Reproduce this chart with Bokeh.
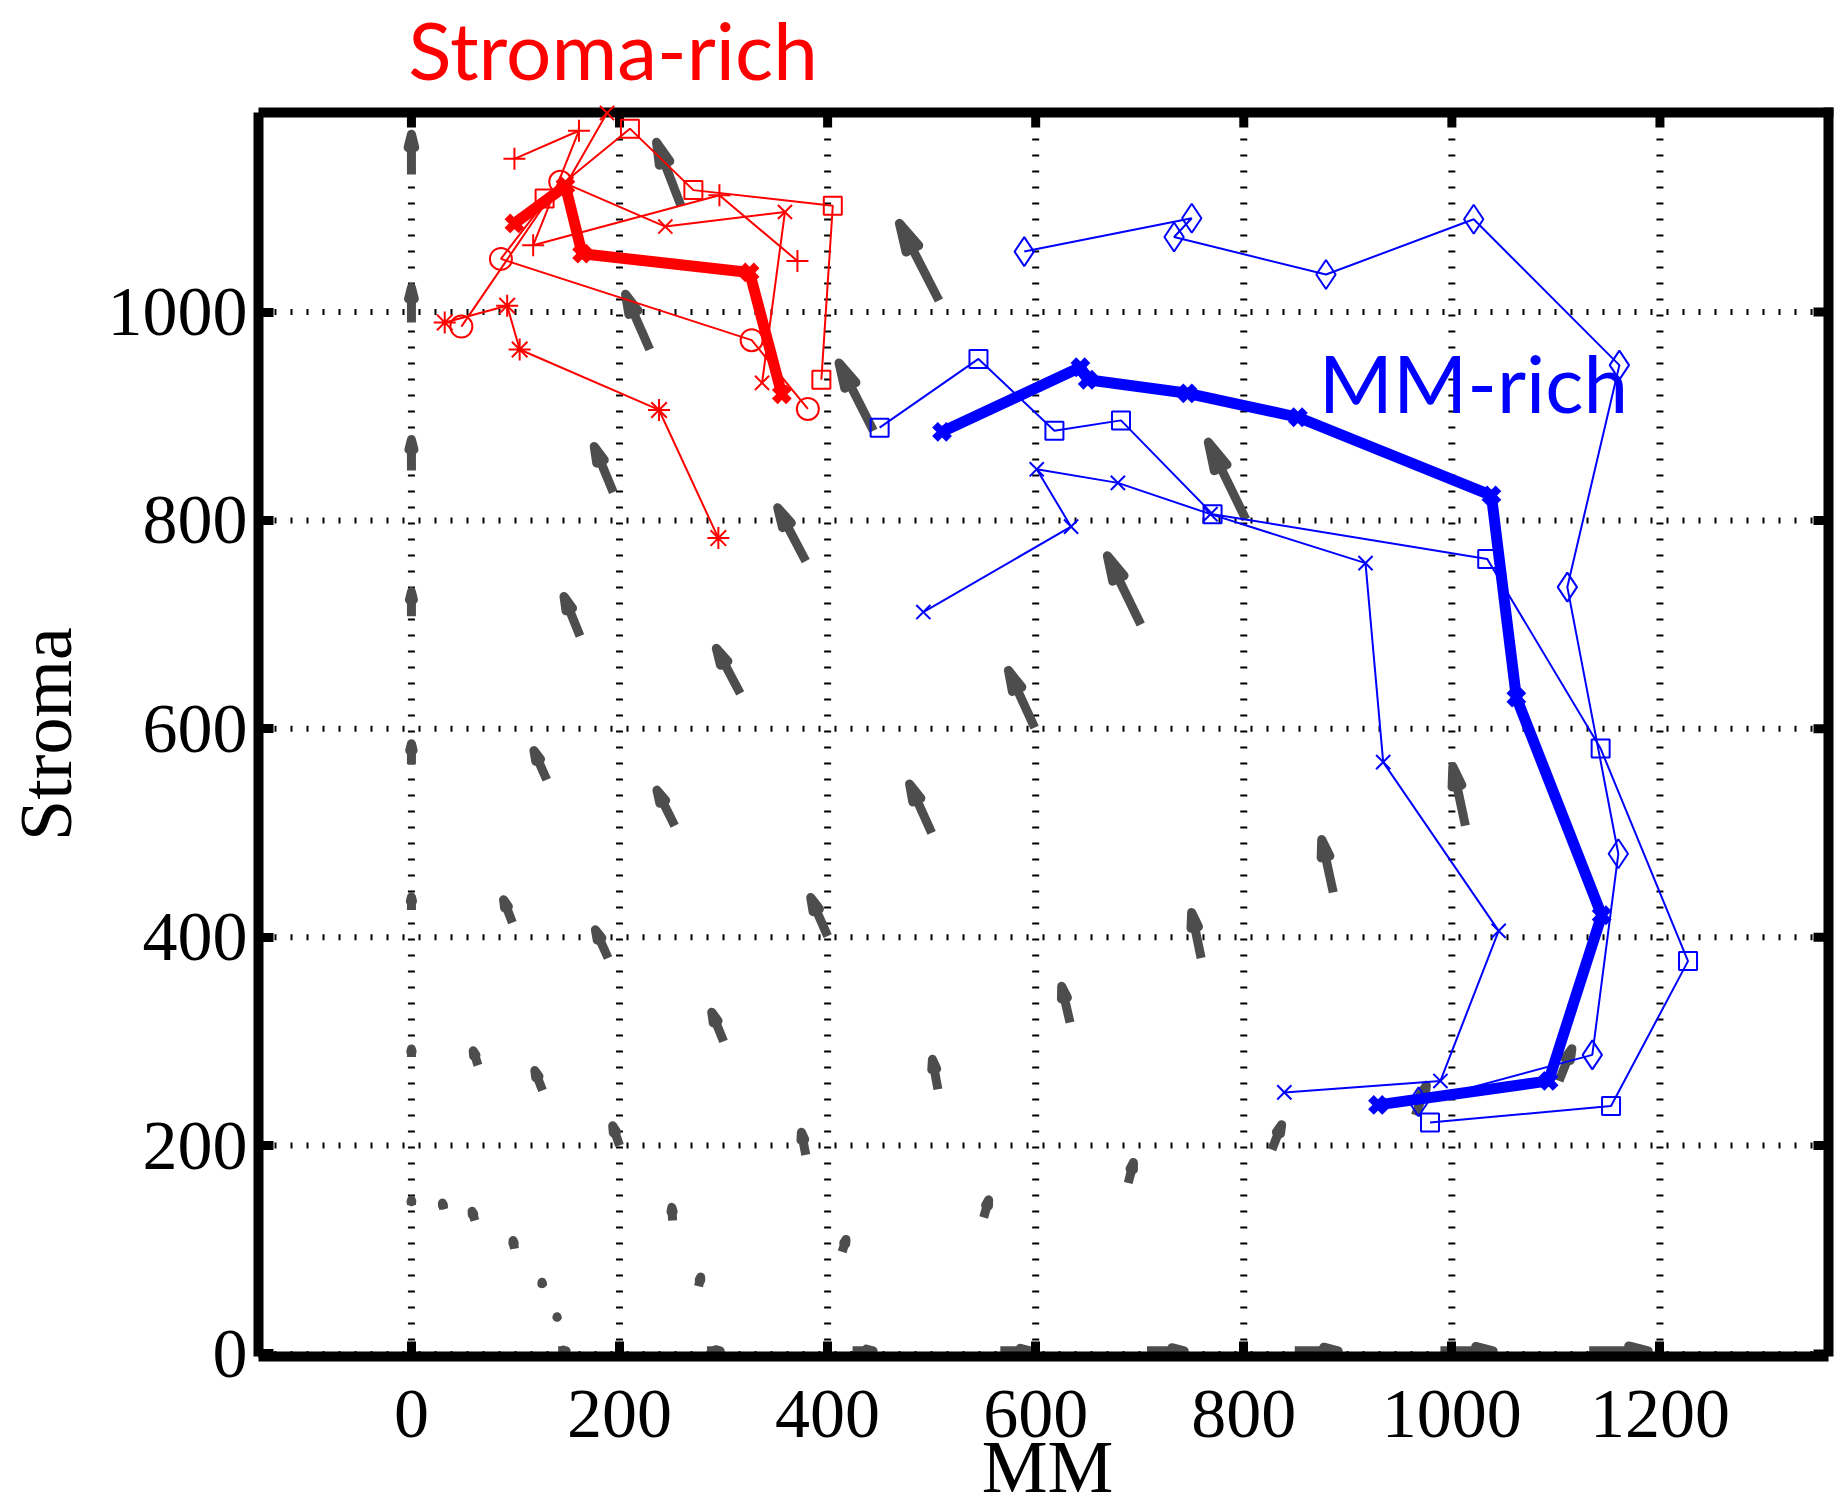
import numpy as np
from bokeh.plotting import figure
from bokeh.models import FixedTicker, Label, Range1d
from bokeh.embed import file_html
from bokeh.resources import INLINE

# ---------------- Stroma-rich group: five trajectories and their average ----------------
sr_plus_x = [99, 161, 117, 296, 371]
sr_plus_y = [1147, 1174, 1064, 1112, 1049]
sr_square_x = [128, 210, 271, 405, 394]
sr_square_y = [1109, 1176, 1117, 1102, 935]
sr_x_x = [188, 149, 244, 359, 337]
sr_x_y = [1191, 1123, 1082, 1096, 932]
sr_circle_x = [48, 143, 86, 327, 381]
sr_circle_y = [986, 1125, 1051, 973, 907]
sr_star_x = [32, 92, 104, 238, 295]
sr_star_y = [990, 1006, 964, 906, 783]
sr_mean_x = [99, 148, 164, 325, 356]
sr_mean_y = [1085, 1121, 1056, 1038, 921]

# ---------------- MM-rich group: three trajectories and their average ----------------
mr_diamond_x = [589, 750, 733, 879, 1021, 1161, 1111, 1160, 1135, 968]
mr_diamond_y = [1058, 1090, 1072, 1036, 1089, 949, 736, 480, 287, 242]
mr_square_x = [450, 545, 618, 682, 770, 1034, 1143, 1227, 1153, 979]
mr_square_y = [889, 955, 886, 896, 806, 763, 581, 377, 238, 222]
mr_x_x = [492, 634, 601, 679, 768, 917, 934, 1045, 989, 839]
mr_x_y = [712, 794, 849, 836, 806, 759, 568, 406, 262, 251]
mr_mean_x = [510, 643, 650, 746, 852, 1038, 1062, 1144, 1093, 929]
mr_mean_y = [885, 947, 935, 922, 899, 824, 630, 421, 262, 239]

# ---------------- direction field: arrow tails and tips ----------------
field_tail_x = [0, 0, 0, 0, 0, 0, 0, 0,
                259, 507, 802, 1013, 1103, 1132,
                229, 444, 701, 886, 965, 989,
                194, 379, 599, 759, 827, 849,
                162, 316, 500, 633, 689, 707,
                130, 253, 400, 506, 550, 566,
                97, 189, 300, 379, 414, 424,
                64, 126, 200, 251, 276, 284,
                31, 61, 99, 126, 140, 141]
field_tail_y = [1132, 990, 848, 708, 566, 426, 285, 143,
                1102, 1011, 801, 507, 262, 3,
                964, 886, 700, 443, 229, 3,
                827, 761, 601, 380, 196, 3,
                689, 634, 500, 318, 164, 3,
                551, 507, 401, 254, 131, 3,
                414, 380, 300, 191, 98, 3,
                277, 253, 200, 128, 65, 3,
                139, 128, 101, 65, 34, 3]
field_tip_x = [0, 0, 0, 0, 0, 0, 0, 0,
               234, 467, 764, 1000, 1117, 1193,
               204, 409, 667, 874, 977, 1044,
               174, 350, 572, 749, 838, 895,
               145, 291, 477, 624, 695, 747,
               116, 234, 382, 500, 556, 599,
               87, 175, 287, 374, 419, 448,
               58, 117, 192, 250, 279, 301,
               29, 57, 97, 125, 140, 153]
field_tip_y = [1175, 1028, 882, 736, 590, 443, 297, 152,
               1167, 1089, 879, 568, 297, 3,
               1021, 955, 770, 498, 262, 3,
               875, 816, 660, 428, 224, 3,
               731, 681, 551, 357, 188, 3,
               583, 545, 442, 287, 152, 3,
               440, 411, 332, 217, 114, 3,
               295, 276, 223, 145, 78, 3,
               149, 141, 113, 73, 40, 3]

x_ticks = [0, 200, 400, 600, 800, 1000, 1200]
y_ticks = [0, 200, 400, 600, 800, 1000]

RED = "#ff0000"
BLUE = "#0000ff"
GRAY = "#4d4d4d"
SERIF = "Liberation Serif"

# axes box in data units
X_LO, X_HI = -147, 1362
Y_LO, Y_HI = -2.5, 1191.5
# the drawing area reaches to the top of the page so the group title fits in it
X_VIEW = 1369.7
Y_VIEW = 1299.0

p = figure(frame_width=1578, frame_height=1356,
           x_range=Range1d(X_LO, X_VIEW), y_range=Range1d(Y_LO, Y_VIEW),
           output_backend="svg", toolbar_location=None,
           min_border_left=258, min_border_top=0,
           min_border_right=3, min_border_bottom=147)
p.background_fill_color = "white"
p.border_fill_color = "white"
p.outline_line_color = None
p.xgrid.visible = False
p.ygrid.visible = False

xa = p.below[0]
ya = p.left[0]
xa.ticker = FixedTicker(ticks=x_ticks)
ya.ticker = FixedTicker(ticks=y_ticks)
xa.bounds = (X_LO, X_HI)
ya.bounds = (Y_LO, Y_HI)

for ax in (xa, ya):
    ax.axis_line_width = 10
    ax.axis_line_color = "black"
    ax.major_tick_in = 15
    ax.major_tick_out = 0
    ax.major_tick_line_width = 9
    ax.major_tick_line_color = "black"
    ax.minor_tick_line_color = None
    ax.major_label_text_font = SERIF
    ax.major_label_text_font_size = "70px"
    ax.major_label_text_color = "black"
    ax.axis_label_text_font = SERIF
    ax.axis_label_text_font_size = "74px"
    ax.axis_label_text_font_style = "normal"
    ax.axis_label_text_color = "black"

xa.axis_label = "MM"
xa.major_label_standoff = 34
xa.axis_label_standoff = -14
# trailing no-break spaces keep the label centred on the box rather than the taller frame
ya.axis_label = "Stroma" + "\u00a0" * 6
ya.major_label_standoff = 11
ya.axis_label_standoff = 18

# dotted grid at the ticks
n_x, n_y = len(x_ticks), len(y_ticks)
p.segment(x0=x_ticks, y0=[Y_LO] * n_x, x1=x_ticks, y1=[Y_HI] * n_x,
          line_color="black", line_width=7, line_dash="2 14")
p.segment(x0=[X_LO] * n_y, y0=y_ticks, x1=[X_HI] * n_y, y1=y_ticks,
          line_color="black", line_width=6, line_dash="2 14")

# ---------------- arrows of the direction field ----------------
lw = 9.0
half = lw / 2 / 1.04
tx0 = np.array(field_tail_x, float)
ty0 = np.array(field_tail_y, float)
tx1 = np.array(field_tip_x, float)
ty1 = np.array(field_tip_y, float)
dx = tx1 - tx0
dy = ty1 - ty0
L = np.hypot(dx, dy)
ux, uy = dx / L, dy / L
Lv = np.maximum(L - half, 1.0)
tipx = tx0 + ux * Lv
tipy = ty0 + uy * Lv
head = 0.33 * Lv
spread = 0.25 * head
bx = tipx - ux * head
by = tipy - uy * head
nx, ny = -uy, ux
head_xs = [[bx[i] + nx[i] * spread[i], tipx[i], bx[i] - nx[i] * spread[i]] for i in range(len(L))]
head_ys = [[by[i] + ny[i] * spread[i], tipy[i], by[i] - ny[i] * spread[i]] for i in range(len(L))]

p.segment(x0=tx0, y0=ty0, x1=bx, y1=by, line_color=GRAY, line_width=lw, line_cap="butt")
p.patches(xs=head_xs, ys=head_ys, fill_color=GRAY, line_color=GRAY,
          line_width=lw, line_join="round")

# ---------------- box: top and right edges with inward ticks ----------------
tick_len = 14.4
p.segment(x0=[X_LO, X_HI], y0=[Y_HI, Y_LO], x1=[X_HI, X_HI], y1=[Y_HI, Y_HI],
          line_color="black", line_width=10, line_cap="square")
p.segment(x0=x_ticks, y0=[Y_HI] * n_x, x1=x_ticks, y1=[Y_HI - tick_len] * n_x,
          line_color="black", line_width=9, line_cap="butt")
p.segment(x0=[X_HI] * n_y, y0=y_ticks, x1=[X_HI - tick_len] * n_y, y1=y_ticks,
          line_color="black", line_width=9, line_cap="butt")

# ---------------- trajectories ----------------
def thin(xs, ys, color, marker, size):
    p.line(xs, ys, line_color=color, line_width=2)
    p.scatter(xs, ys, marker=marker, size=size, line_color=color,
              fill_color=None, line_width=2)

thin(sr_plus_x, sr_plus_y, RED, "cross", 22)
thin(sr_square_x, sr_square_y, RED, "square", 18)
thin(sr_x_x, sr_x_y, RED, "x", 20)
thin(sr_circle_x, sr_circle_y, RED, "circle", 22)
thin(sr_star_x, sr_star_y, RED, "asterisk", 22)

thin(mr_diamond_x, mr_diamond_y, BLUE, "diamond", 29)
thin(mr_square_x, mr_square_y, BLUE, "square", 18)
thin(mr_x_x, mr_x_y, BLUE, "x", 20)

for mx, my, c in ((sr_mean_x, sr_mean_y, RED), (mr_mean_x, mr_mean_y, BLUE)):
    p.line(mx, my, line_color=c, line_width=11, line_join="round")
    p.scatter(mx, my, marker="x", size=20, line_color=c, line_width=8)

# ---------------- group labels ----------------
p.add_layout(Label(x=-3, y=1252, text="Stroma-rich", text_color=RED,
                   text_font="Lato", text_font_size="80px",
                   text_align="left", text_baseline="alphabetic"))
p.add_layout(Label(x=872, y=933, text="MM-rich", text_color=BLUE,
                   text_font="Lato", text_font_size="80px",
                   text_align="left", text_baseline="alphabetic"))

open("out.html", "w").write(file_html(p, INLINE))
